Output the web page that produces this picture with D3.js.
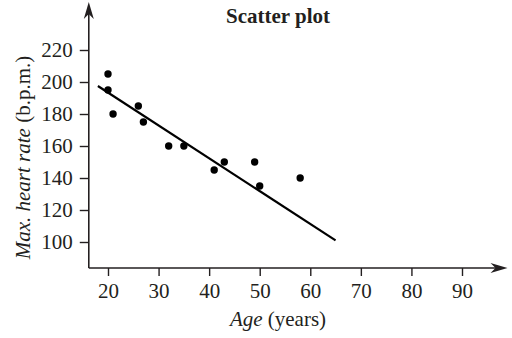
<!DOCTYPE html>
<html><head><meta charset="utf-8">
<script src="https://cdn.jsdelivr.net/npm/d3@7"></script>
<style>
html,body{margin:0;padding:0;background:#fff;}
svg{display:block;}
text{font-family:"Liberation Serif","Times New Roman",serif;fill:#231f20;}
</style></head>
<body>
<svg id="chart" width="512" height="338"></svg>
<script>
// Data
const ages = [20, 20, 21, 26, 27, 32, 35, 41, 43, 49, 50, 58];
const heartRates = [205, 195, 180, 185, 175, 160, 160, 145, 150, 150, 135, 140];
const lineAges = [18, 65];
const lineRates = [197.5, 101];
const xTicks = [20, 30, 40, 50, 60, 70, 80, 90];
const yTicks = [100, 120, 140, 160, 180, 200, 220];
const xExtent = [16.2, 99];   // axis runs from y-axis to arrow tip
const yExtent = [83.75, 250];
const title = "Scatter plot";

const svg = d3.select("#chart");
const ink = "#231f20";
const fs = 21;

const x = d3.scaleLinear().domain([20, 90]).range([108, 462]);
const y = d3.scaleLinear().domain([100, 220]).range([242, 50]);

// axis lines
const x0 = x(xExtent[0]), y0 = y(yExtent[0]);
svg.append("line").attr("x1", x0).attr("x2", x(xExtent[1]) - 10)
  .attr("y1", y0).attr("y2", y0).attr("stroke", ink).attr("stroke-width", 1.6);
svg.append("line").attr("x1", x0).attr("x2", x0)
  .attr("y1", y0).attr("y2", y(yExtent[1]) + 10).attr("stroke", ink).attr("stroke-width", 1.6);

// arrowheads
const arrow = "M0,0 L-17,-5 L-12,0 L-17,5 Z";
svg.append("path").attr("d", arrow).attr("fill", ink)
  .attr("transform", `translate(${x(xExtent[1])},${y0})`);
svg.append("path").attr("d", arrow).attr("fill", ink)
  .attr("transform", `translate(${x0},${y(yExtent[1])}) rotate(-90)`);

// axes ticks
const xAxis = d3.axisBottom(x).tickValues(xTicks).tickSize(8).tickPadding(7);
const gx = svg.append("g").attr("transform", `translate(0,${y0})`).call(xAxis);
const yAxis = d3.axisLeft(y).tickValues(yTicks).tickSize(9).tickPadding(7);
const gy = svg.append("g").attr("transform", `translate(${x0},0)`).call(yAxis);
[gx, gy].forEach(g => {
  g.select(".domain").remove();
  g.selectAll(".tick line").attr("stroke", ink).attr("stroke-width", 1.4);
  g.selectAll(".tick text").attr("fill", ink).style("font-size", fs + "px")
    .style("font-family", '"Liberation Serif","Times New Roman",serif');
});

// regression line
const lineData = lineAges.map((a, i) => [a, lineRates[i]]);
svg.append("path").datum(lineData)
  .attr("d", d3.line().x(d => x(d[0])).y(d => y(d[1])))
  .attr("fill", "none").attr("stroke", "#000").attr("stroke-width", 2.2);

// points
svg.append("g").selectAll("circle").data(ages.map((a, i) => [a, heartRates[i]]))
  .join("circle").attr("cx", d => x(d[0])).attr("cy", d => y(d[1]))
  .attr("r", 3.7).attr("fill", "#000");

// title
svg.append("text").attr("x", 278).attr("y", 22.5).attr("text-anchor", "middle")
  .style("font-size", fs + "px").style("font-weight", "bold").text(title);

// x axis title
const xt = svg.append("text").attr("x", 278).attr("y", 326).attr("text-anchor", "middle")
  .style("font-size", fs + "px");
xt.append("tspan").style("font-style", "italic").text("Age");
xt.append("tspan").text(" (years)");

// y axis title
const yt = svg.append("text").attr("transform", "translate(30,157.5) rotate(-90)")
  .attr("text-anchor", "middle").style("font-size", fs + "px");
yt.append("tspan").style("font-style", "italic").text("Max. heart rate");
yt.append("tspan").text(" (b.p.m.)");
</script>
</body></html>
